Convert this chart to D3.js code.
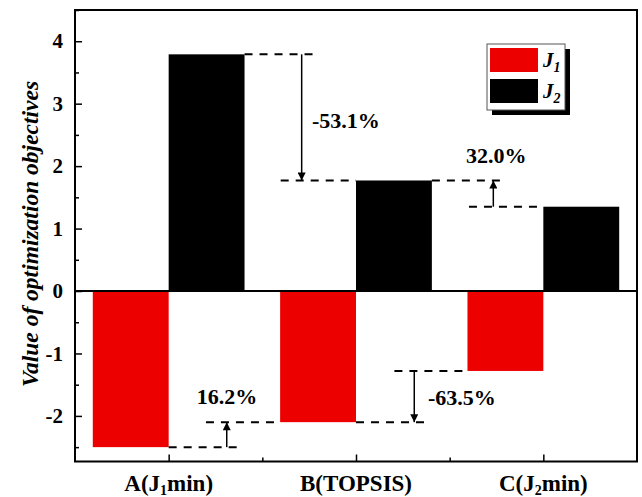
<!DOCTYPE html>
<html lang="en">
<head>
<meta charset="UTF-8">
<title>Optimization objectives</title>
<script src="https://cdn.jsdelivr.net/npm/d3@7"></script>
<style>
  body { margin: 0; background: #fff; }
  text { font-family: "Liberation Serif", "Times New Roman", serif; }
</style>
</head>
<body>
<svg id="chart" width="642" height="497"></svg>
<script>
// data
const categories = ["A", "B", "C"];
const series = ["J1", "J2"];
const j1Values = [-2.5, -2.1, -1.28];
const j2Values = [3.79, 1.77, 1.35];
const yTicks = [-2, -1, 0, 1, 2, 3, 4];

// annotation pieces: x in category-index units, y in data units
const dashSegments = [
  [0.405, 0.792, 3.79], [0.598, 1.0, 1.77], [1.405, 1.795, 1.77], [1.603, 2.0, 1.35],
  [0.0, 0.39, -2.5], [0.199, 0.595, -2.1], [1.0, 1.395, -2.1], [1.205, 1.595, -1.28]
];
const arrows = [
  [0.71, 3.79, 1.77], [1.733, 1.35, 1.77], [0.31, -2.5, -2.1], [1.311, -1.28, -2.1]
];
const pctLabels = [
  ["-53.1%", 0.765, 2.73, "start"], ["32.0%", 1.748, 2.17, "middle"],
  ["16.2%", 0.311, -1.69, "middle"], ["-63.5%", 1.384, -1.71, "start"]
];

const svg = d3.select("#chart");
const mLeft = 75, mRight = 637, mTop = 10, mBottom = 461.5;
const red = "#ec0000";

const x = d3.scaleBand().domain(categories).range([mLeft, mRight]).padding(0);
const xi = d3.scaleLinear().domain([-0.5, categories.length - 0.5]).range([mLeft, mRight]);
const bw = x.bandwidth() * 0.405;
const xs = d3.scaleBand().domain(series).range([-bw, bw]);
const y = d3.scaleLinear().domain([-2.73, 4.5]).range([mBottom, mTop]);

const rows = categories.map((c, i) => ({ c, J1: j1Values[i], J2: j2Values[i] }));

// bars
const g = svg.append("g");
series.forEach(s => {
  g.selectAll(".bar-" + s).data(rows).join("rect")
    .attr("x", d => x(d.c) + x.bandwidth() / 2 + xs(s))
    .attr("width", xs.bandwidth())
    .attr("y", d => y(Math.max(0, d[s])))
    .attr("height", d => Math.abs(y(d[s]) - y(0)))
    .attr("fill", s === "J1" ? red : "#000");
});

// zero line
svg.append("line")
  .attr("x1", mLeft).attr("x2", mRight).attr("y1", y(0)).attr("y2", y(0))
  .attr("stroke", "#000").attr("stroke-width", 2);

// dashed guides
svg.selectAll(".dash").data(dashSegments).join("line")
  .attr("x1", d => xi(d[0])).attr("x2", d => xi(d[1]))
  .attr("y1", d => y(d[2])).attr("y2", d => y(d[2]))
  .attr("stroke", "#000").attr("stroke-width", 2).attr("stroke-dasharray", "8,7");

// arrows
svg.append("defs").append("marker")
  .attr("id", "head").attr("viewBox", "0 0 10 10").attr("refX", 10).attr("refY", 5)
  .attr("markerWidth", 12).attr("markerHeight", 8).attr("markerUnits", "userSpaceOnUse")
  .attr("orient", "auto")
  .append("path").attr("d", "M0,0L10,5L0,10Z").attr("fill", "#000");
svg.selectAll(".arrow").data(arrows).join("line")
  .attr("x1", d => xi(d[0])).attr("x2", d => xi(d[0]))
  .attr("y1", d => y(d[1])).attr("y2", d => y(d[2]))
  .attr("stroke", "#000").attr("stroke-width", 1.5)
  .attr("marker-end", "url(#head)");

svg.selectAll(".pct").data(pctLabels).join("text")
  .attr("x", d => xi(d[1])).attr("y", d => y(d[2]))
  .attr("text-anchor", d => d[3]).attr("dominant-baseline", "central")
  .attr("font-size", 22).attr("font-weight", "bold")
  .text(d => d[0]);

// axes
const yAxis = svg.append("g").attr("transform", `translate(${mLeft},0)`)
  .call(d3.axisLeft(y).tickValues(yTicks).tickFormat(d => String(d)).tickSize(-7).tickPadding(12));
svg.append("g").attr("transform", `translate(${mLeft},0)`)
  .call(d3.axisLeft(y).tickValues(d3.range(-2.5, 4.6, 1)).tickSize(-4).tickFormat(""));
svg.append("g").attr("transform", `translate(0,${mBottom})`)
  .call(d3.axisBottom(xi).tickValues(d3.range(0, categories.length, 1)).tickSize(-7).tickFormat(""));
svg.append("g").attr("transform", `translate(0,${mBottom})`)
  .call(d3.axisBottom(xi).tickValues([0.5, 1.5]).tickSize(-4).tickFormat(""));
svg.selectAll(".domain").remove();
svg.selectAll(".tick line").attr("stroke", "#000").attr("stroke-width", 1.5);
yAxis.selectAll("text").attr("font-size", 21).attr("font-weight", "bold")
  .attr("font-family", "Liberation Serif, serif").attr("fill", "#000");

// frame
svg.append("rect").attr("x", mLeft).attr("y", mTop)
  .attr("width", mRight - mLeft).attr("height", mBottom - mTop)
  .attr("fill", "none").attr("stroke", "#000").attr("stroke-width", 2);

// x category labels
const xLabelParts = [["A(J", "1", "min)"], ["B(TOPSIS)", "", ""], ["C(J", "2", "min)"]];
categories.forEach((c, i) => {
  const t = svg.append("text").attr("x", x(c) + x.bandwidth() / 2).attr("y", 491)
    .attr("text-anchor", "middle").attr("font-size", 23).attr("font-weight", "bold");
  const p = xLabelParts[i];
  t.append("tspan").text(p[0]);
  if (p[1]) {
    t.append("tspan").attr("font-size", 14).attr("dy", 4).text(p[1]);
    t.append("tspan").attr("dy", -4).text(p[2]);
  }
});

// y title
svg.append("text")
  .attr("transform", `translate(38,234) rotate(-90)`)
  .attr("text-anchor", "middle").attr("font-size", 23.5)
  .attr("font-weight", "bold").attr("font-style", "italic")
  .text("Value of optimization objectives");

// legend
const lg = svg.append("g").attr("transform", "translate(487,44)");
lg.append("rect").attr("x", 5).attr("y", 5).attr("width", 78).attr("height", 66).attr("fill", "#000");
lg.append("rect").attr("x", 0).attr("y", 0).attr("width", 78).attr("height", 66)
  .attr("fill", "#fff").attr("stroke", "#555").attr("stroke-width", 1);
series.forEach((s, i) => {
  lg.append("rect").attr("x", 3).attr("y", 4 + i * 31).attr("width", 48).attr("height", 24)
    .attr("fill", s === "J1" ? red : "#000");
  const t = lg.append("text").attr("x", 56).attr("y", 23 + i * 31)
    .attr("font-size", 21).attr("font-style", "italic").attr("font-weight", "bold");
  t.append("tspan").text("J");
  t.append("tspan").attr("font-size", 14).attr("dy", 5).text(s.slice(1));
});
</script>
</body>
</html>
